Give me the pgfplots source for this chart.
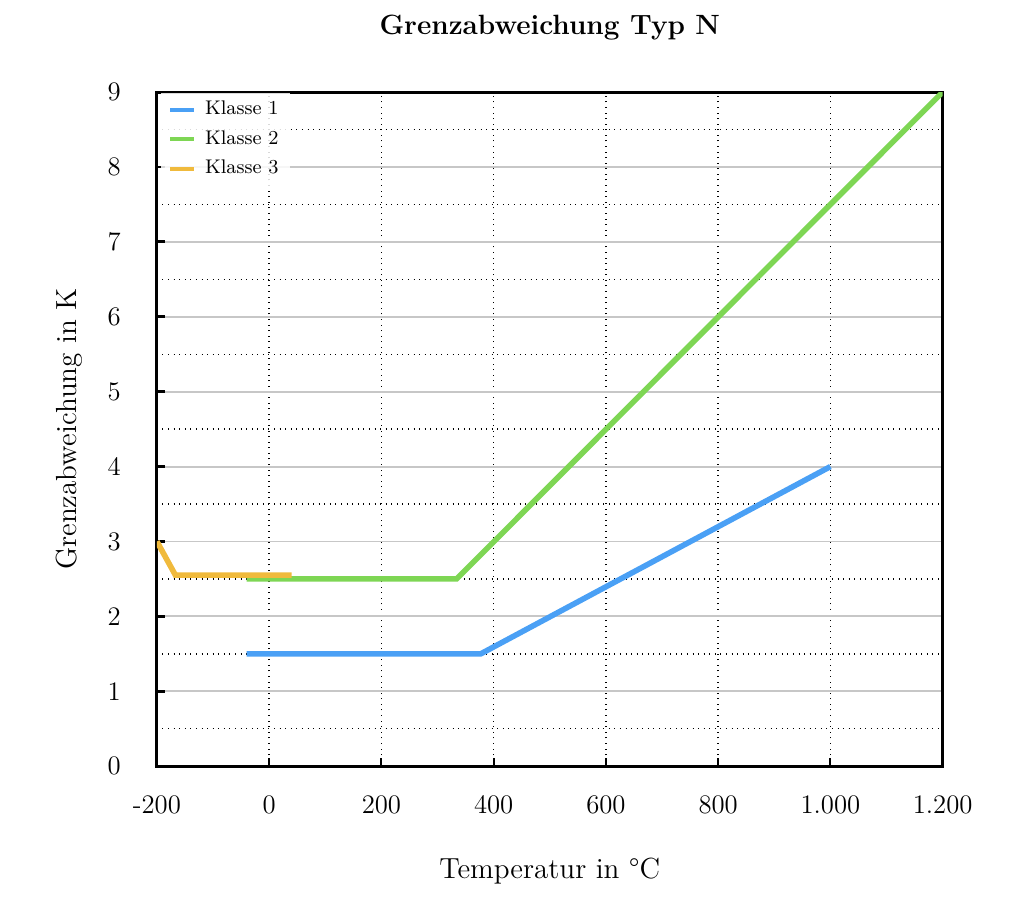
\documentclass[border=0pt]{standalone}
\usepackage{pgfplots}
\pgfplotsset{compat=1.18}
\definecolor{c1}{RGB}{74,160,245}
\definecolor{c2}{RGB}{126,214,84}
\definecolor{c3}{RGB}{240,186,60}
\begin{document}
\begin{tikzpicture}
\begin{axis}[
  scale only axis,
  width=338pt, height=290pt,
  xmin=-200, xmax=1200, ymin=0, ymax=9,
  xtick={-200,0,200,400,600,800,1000,1200},
  xticklabels={-200,0,200,400,600,800,1.000,1.200},
  ytick={0,1,2,3,4,5,6,7,8,9},
  yticklabels={0,1,2,3,4,5,6,7,8,9},
  minor y tick num=1,
  minor tick length=0pt,
  major tick length=3.5pt,
  xtick pos=bottom, ytick pos=left,
  tick align=inside,
  grid=both,
  major x grid style={black, dotted, line width=0.6pt},
  major y grid style={black!22, line width=0.8pt},
  minor y grid style={black, dotted, line width=0.6pt},
  axis line style={line width=1.3pt},
  xtick style={black, line width=0.8pt},
  ytick style={black, line width=1.2pt},
  ticklabel style={font=\fontsize{11.5}{13}\selectfont},
  xticklabel style={yshift=-9pt},
  yticklabel style={xshift=-12pt},
  title={\textbf{Grenzabweichung Typ N}},
  title style={font=\fontsize{12}{14}\selectfont, yshift=13pt},
  xlabel={Temperatur in \textdegree C},
  ylabel={Grenzabweichung in K},
  label style={font=\fontsize{12.5}{14}\selectfont},
  xlabel style={yshift=-12pt},
  ylabel style={yshift=4pt},
  legend style={draw=none, fill=white, fill opacity=0.85, text opacity=1, font=\fontsize{8.5}{10}\selectfont, at={(0.005,1)}, anchor=north west, row sep=1.3pt, inner ysep=1.7pt, column sep=2pt},
  legend cell align=left,
  legend image code/.code={\draw[#1, line width=1.8pt] (0pt,0pt) -- (10pt,0pt);},
  every axis plot/.append style={line width=2.4pt},
]
\addplot[c1] coordinates {(-40,1.5) (377,1.5) (1000,4)};
\addlegendentry{Klasse 1}
\addplot[c2] coordinates {(-40,2.5) (334,2.5) (1200,9)};
\addlegendentry{Klasse 2}
\addplot[c3] coordinates {(-200,3) (-167,2.55) (40,2.55)};
\addlegendentry{Klasse 3}
\end{axis}
\pgfresetboundingbox
\path (current axis.south west) ++(-67.5pt,-60pt) coordinate (bl);
\path (current axis.north east) ++(35pt,39.6pt) coordinate (tr);
\path[use as bounding box] (bl) rectangle (tr);
\end{tikzpicture}
\end{document}
